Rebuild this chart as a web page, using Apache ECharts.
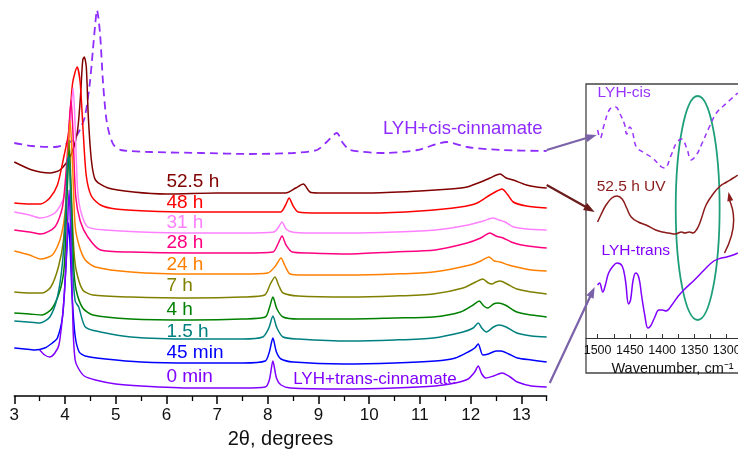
<!DOCTYPE html>
<html><head><meta charset="utf-8">
<script src="https://cdn.jsdelivr.net/npm/echarts@6/dist/echarts.min.js"></script>
<style>html,body{margin:0;padding:0;background:#fff}#c{width:738px;height:453px}</style>
</head><body><div id="c"></div>
<script>
// ---------- XRD patterns (2theta, intensity a.u. incl. stacking offset) ----------
const xrdCis = [[3.0,253],[3.35,250],[3.8,249],[4.1,254],[4.26,263],[4.39,279],[4.49,313],[4.55,346],[4.6,374],[4.63,386],[4.69,363],[4.75,313],[4.81,279],[4.87,263],[4.96,251],[5.1,246],[5.7,244],[6.7,243],[7.65,242],[8.5,243],[8.97,246],[9.16,254],[9.36,263],[9.48,253],[9.62,246],[10.3,243],[10.95,246],[11.53,254],[11.93,249],[12.58,246],[13.5,245]];
const xrd52h = [[3.0,234],[3.35,226],[3.7,223],[3.9,226],[4.1,239],[4.24,263],[4.3,296],[4.35,336],[4.38,339],[4.42,329],[4.46,279],[4.52,236],[4.6,216],[4.85,208],[5.35,204],[6.0,202],[7.0,203],[8.35,203],[8.55,208],[8.7,212],[8.83,204],[9.0,203],[10.0,203],[11.0,205],[11.6,207],[11.93,209],[12.2,214],[12.38,218],[12.58,222],[12.7,218],[12.84,216],[13.1,211],[13.3,209],[13.5,208]];
const xrd48h = [[3.0,193],[3.3,192],[3.52,192],[3.7,198],[3.85,211],[3.98,240],[4.07,263],[4.15,313],[4.24,329],[4.3,313],[4.36,263],[4.42,220],[4.52,200],[4.7,191],[5.0,187],[5.6,185],[6.5,184],[7.5,184],[8.25,184],[8.35,191],[8.42,198],[8.5,190],[8.6,184],[9.0,183],[10.0,183],[11.0,185],[11.8,189],[12.13,193],[12.38,201],[12.52,205],[12.62,207],[12.72,202],[12.84,194],[13.1,190],[13.5,188]];
const xrd31h = [[3.0,184],[3.3,181],[3.52,178],[3.8,183],[3.98,199],[4.06,240],[4.11,280],[4.16,308],[4.2,270],[4.25,205],[4.32,183],[4.45,169],[4.8,166],[5.5,164],[6.5,163],[7.5,163],[8.12,164],[8.2,168],[8.28,174],[8.36,167],[8.48,164],[8.8,163],[9.6,163],[10.5,164],[11.3,166],[11.95,171],[12.25,175],[12.44,178],[12.56,176],[12.68,174],[12.85,169],[13.1,167],[13.5,166]];
const xrd28h = [[3.0,166],[3.3,164],[3.52,162],[3.8,169],[3.95,189],[4.03,230],[4.08,270],[4.12,296],[4.16,260],[4.21,200],[4.3,175],[4.45,159],[4.7,146],[5.3,144],[6.5,143],[7.5,143],[8.1,144],[8.2,152],[8.28,160],[8.36,151],[8.48,144],[8.8,143],[9.6,142],[10.5,144],[11.3,146],[11.93,153],[12.2,158],[12.38,163],[12.5,160],[12.64,158],[12.8,154],[13.0,151],[13.3,149],[13.5,148]];
const xrd24h = [[3.0,145],[3.3,141],[3.52,137],[3.75,141],[3.9,156],[4.0,183],[4.05,230],[4.1,276],[4.15,230],[4.2,170],[4.28,150],[4.4,136],[4.6,129],[5.3,124],[6.5,122],[7.5,122],[8.0,123],[8.15,130],[8.26,138],[8.34,130],[8.44,122],[8.7,121],[9.6,121],[10.5,122],[11.26,124],[11.99,131],[12.2,135],[12.36,139],[12.47,135],[12.58,134],[12.75,131],[12.91,129],[13.2,126],[13.5,125]];
const xrd7h = [[3.0,104],[3.3,103],[3.55,103],[3.72,109],[3.87,129],[3.97,156],[4.04,210],[4.08,256],[4.12,210],[4.17,150],[4.22,126],[4.35,106],[4.55,101],[5.3,99],[6.5,98],[7.5,99],[7.94,101],[8.05,112],[8.14,119],[8.22,110],[8.3,103],[8.6,100],[9.6,99],[10.5,100],[11.26,102],[11.85,108],[12.1,114],[12.24,117],[12.35,113],[12.42,112],[12.5,114],[12.58,115],[12.72,112],[12.91,107],[13.2,104],[13.5,102]];
const xrd4h = [[3.0,83],[3.3,82],[3.55,81],[3.75,88],[3.92,109],[3.99,133],[4.04,200],[4.08,246],[4.12,200],[4.17,130],[4.22,106],[4.35,88],[4.55,81],[5.3,77],[6.5,76],[7.5,77],[7.95,79],[8.03,88],[8.10,99],[8.18,87],[8.3,79],[8.6,77],[9.6,77],[10.5,78],[11.26,79],[11.8,84],[12.05,91],[12.17,95],[12.26,90],[12.34,88],[12.45,92],[12.54,93],[12.68,91],[12.91,84],[13.2,81],[13.5,79]];
const xrd1h5 = [[3.0,75],[3.25,74],[3.5,73],[3.7,79],[3.85,99],[3.95,133],[4.01,180],[4.05,236],[4.08,240],[4.11,200],[4.15,130],[4.2,95],[4.27,89],[4.4,69],[4.7,64],[5.3,59],[6.5,57],[7.5,57],[7.9,59],[8.02,68],[8.10,80],[8.18,68],[8.3,59],[8.6,57],[9.6,55],[10.5,56],[11.26,58],[11.85,64],[12.05,68],[12.15,73],[12.22,68],[12.31,64],[12.45,69],[12.56,71],[12.7,69],[12.91,63],[13.2,60],[13.5,59]];
const xrd45m = [[3.0,48],[3.2,47],[3.4,46],[3.6,48],[3.75,53],[3.85,58],[3.95,79],[4.0,113],[4.04,150],[4.07,173],[4.10,150],[4.14,100],[4.2,60],[4.28,44],[4.4,40],[4.8,37],[5.5,34],[6.5,33],[7.5,33],[7.95,35],[8.03,44],[8.10,58],[8.17,44],[8.26,37],[8.5,34],[9.5,32],[10.5,33],[11.3,35],[11.7,38],[11.95,44],[12.08,48],[12.15,52],[12.24,41],[12.35,42],[12.5,45],[12.6,45],[12.75,42],[12.92,38],[13.2,36],[13.5,34]];
const xrd0m = [[3.5,46],[3.6,41],[3.7,39],[3.8,43],[3.88,51],[3.95,79],[4.0,113],[4.04,156],[4.08,206],[4.12,146],[4.16,66],[4.2,36],[4.26,28],[4.38,20],[4.6,16],[5.0,12],[5.5,10],[6.5,8],[7.5,8],[7.95,9],[8.03,16],[8.10,35],[8.17,18],[8.26,11],[8.45,8],[9.5,7],[10.5,8],[11.3,10],[11.7,13],[11.95,17],[12.08,24],[12.15,30],[12.22,22],[12.3,18],[12.45,20],[12.62,23],[12.78,19],[12.92,14],[13.2,10],[13.5,9]];

const xrdNames  = ['LYH+cis-cinnamate','52.5 h','48 h','31 h','28 h','24 h','7 h','4 h','1.5 h','45 min','0 min'];
const xrdColors = ['#8f2cff','#800000','#ff0000','#ff80ff','#ff0080','#ff8000','#808000','#008000','#008080','#0000ff','#8000ff'];
const xrdData   = [xrdCis,xrd52h,xrd48h,xrd31h,xrd28h,xrd24h,xrd7h,xrd4h,xrd1h5,xrd45m,xrd0m];
// label anchor: [2theta (left edge), intensity (vertical centre)]
const xrdLabelPos = [[10.27,267],[6.0,214],[6.0,193],[6.0,173],[6.0,153],[6.0,131],[6.0,110],[6.0,86],[6.0,64],[6.0,43],[6.0,19]];
const transLabel = {text:'LYH+trans-cinnamate', pos:[8.5,17], color:'#8000ff'};
const xrdMajorTicks = [3,4,5,6,7,8,9,10,11,12,13];
const xrdMinorTicks = [3.5,4.5,5.5,6.5,7.5,8.5,9.5,10.5,11.5,12.5,13.5];

// ---------- FTIR inset (wavenumber cm-1, transmittance a.u. incl. offset) ----------
const irCis = [[1500,208],[1496,200],[1490,213],[1481,229],[1472,231],[1466,225],[1458,213],[1455,204],[1450,211],[1446,206],[1440,191],[1430,186],[1415,180],[1401,171],[1396,170],[1386,183],[1378,195],[1370,199],[1362,190],[1355,178],[1347,183],[1338,195],[1327,211],[1316,225],[1300,235],[1283,245]];
const ir52h = [[1500,116],[1495,123],[1487,133],[1478,140],[1470,142],[1462,139],[1455,130],[1448,121],[1437,116],[1425,113],[1410,108],[1400,106],[1390,105],[1380,104],[1370,106],[1365,105],[1358,106],[1352,105],[1346,109],[1340,118],[1332,133],[1320,145],[1310,152],[1300,156],[1290,160],[1283,163]];
const irTrans = [[1500,53],[1497,55],[1492,46],[1488,53],[1483,65],[1476,72],[1470,75],[1462,72],[1457,58],[1452,34],[1449,38],[1445,58],[1441,65],[1436,60],[1432,43],[1427,23],[1422,10],[1418,12],[1412,20],[1405,28],[1400,28],[1394,27],[1385,33],[1375,42],[1365,49],[1350,58],[1335,68],[1320,77],[1308,80],[1300,81],[1290,83],[1283,85]];
const irNames  = ['LYH-cis','52.5 h UV','LYH-trans'];
const irColors = ['#9933ff','#8b1a1a','#8000ff'];
const irData   = [irCis, ir52h, irTrans];
const irLabelPos = [[1500,245],[1501.5,151],[1494,87]];
// highlight ellipse: [centre wavenumber, centre value, half-width (cm-1), half-height]
const irEllipse = [[1345,130,34,112]];

// arrows: from main-plot coords to inset coords
const arrowsLink = [
  {from:[13.5,246], to:[1501.5,203], color:'#7b62a8'},
  {from:[13.5,211], to:[1504.6,126], color:'#6a1b1b'},
  {from:[13.56,13], to:[1504.6,51], color:'#7b62a8'}
];
const arrowCurve = {from:[1303.4,85], to:[1297.2,146], color:'#8b1a1a'};

const FONT = 'Arial, "Liberation Sans", sans-serif';

const series = [];
xrdData.forEach((d,i)=>{
  series.push({
    type:'line', xAxisIndex:0, yAxisIndex:0, data:d, name:xrdNames[i],
    showSymbol:false, smooth:0.25, animation:false, silent:true,
    lineStyle:{color:xrdColors[i], width: i===0?1.8:1.5, type: i===0?[8,5]:'solid'}
  });
});
const IR0 = series.length;
irData.forEach((d,i)=>{
  series.push({
    type:'line', xAxisIndex:2, yAxisIndex:1, data:d, name:irNames[i],
    showSymbol:false, smooth:0.4, animation:false, silent:true,
    lineStyle:{color:irColors[i], width:1.5, type: i===0?[5,4]:'solid'}
  });
});
series.push({
  type:'custom', xAxisIndex:2, yAxisIndex:1, data:irEllipse, animation:false, silent:true, clip:false,
  renderItem:(params, api)=>{
    const c = api.coord([api.value(0), api.value(1)]);
    const s = api.size([api.value(2), api.value(3)]);
    return {type:'ellipse', shape:{cx:c[0], cy:c[1], rx:Math.abs(s[0]), ry:Math.abs(s[1])},
            style:{fill:'none', stroke:'#1f9e7a', lineWidth:1.8}};
  }
});

const option = {
  animation:false,
  backgroundColor:'#fff',
  grid:[
    {left:14.3, top:0, width:532.4, height:396, containLabel:false, outerBoundsMode:'none'},
    {left:586, top:84, width:173, height:254, containLabel:false, outerBoundsMode:'none'},
    {left:586, top:84, width:200, height:289, show:true, borderColor:'#444', borderWidth:1.3, backgroundColor:'transparent', containLabel:false, outerBoundsMode:'none'}
  ],
  xAxis:[
    {type:'value', gridIndex:0, min:3, max:13.5, position:'bottom',
     name:'2θ, degrees', nameLocation:'middle', nameGap:33,
     nameTextStyle:{fontSize:20, color:'#111', fontFamily:FONT},
     axisLine:{show:true, onZero:false, lineStyle:{color:'#000', width:1.5}},
     axisTick:{show:true, customValues:xrdMajorTicks, length:8, lineStyle:{color:'#000', width:1.5}},
     axisLabel:{customValues:xrdMajorTicks, fontSize:17, margin:11, color:'#111', fontFamily:FONT},
     splitLine:{show:false}},
    {type:'value', gridIndex:0, min:3, max:13.5, position:'bottom',
     axisLine:{show:false},
     axisTick:{show:true, customValues:xrdMinorTicks, length:5, lineStyle:{color:'#000', width:1.3}},
     axisLabel:{show:false}, splitLine:{show:false}},
    {type:'value', gridIndex:1, min:1250, max:1518, inverse:true, interval:25, position:'bottom',
     name:'Wavenumber, cm⁻¹', nameLocation:'middle', nameGap:21,
     nameTextStyle:{fontSize:14.5, color:'#111', fontFamily:FONT},
     axisLine:{show:true, onZero:false, lineStyle:{color:'#333', width:1.2}},
     axisTick:{show:true, inside:true, length:4, lineStyle:{color:'#333', width:1}},
     axisLabel:{fontSize:12.5, margin:6, color:'#111', fontFamily:FONT, showMaxLabel:false,
       formatter:v=> (Math.abs(v%50)<1e-6 ? String(v) : '')},
     splitLine:{show:false}},
    {type:'value', gridIndex:2, min:0, max:1, show:false}
  ],
  yAxis:[
    {type:'value', gridIndex:0, min:0, max:396, show:false},
    {type:'value', gridIndex:1, min:0, max:254, show:false},
    {type:'value', gridIndex:2, min:0, max:1, show:false}
  ],
  series:series
};

const chart = echarts.init(document.getElementById('c'), null, {renderer:'canvas'});
chart.setOption(option);

const mainPx = v => chart.convertToPixel({seriesIndex:0}, v);
const irPx = v => chart.convertToPixel({seriesIndex:IR0}, v);

function head(tip, from, color, len, wid){
  const dx = tip[0]-from[0], dy = tip[1]-from[1];
  const L = Math.hypot(dx,dy) || 1;
  const ux = dx/L, uy = dy/L;
  const bx = tip[0]-ux*len, by = tip[1]-uy*len;
  return {type:'polygon', silent:true, z:10,
    shape:{points:[[tip[0],tip[1]],[bx-uy*wid/2, by+ux*wid/2],[bx+uy*wid/2, by-ux*wid/2]]},
    style:{fill:color}};
}

const g = [];
xrdNames.forEach((n,i)=>{
  const p = mainPx(xrdLabelPos[i]);
  g.push({type:'text', silent:true, z:5, x:p[0], y:p[1],
    style:{text:n, fill:xrdColors[i], font:(i===0?'18.5px ':'19px ')+FONT,
      align:'left', verticalAlign:'middle', textAlign:'left', textVerticalAlign:'middle'}});
});
{
  const p = mainPx(transLabel.pos);
  g.push({type:'text', silent:true, z:5, x:p[0], y:p[1],
    style:{text:transLabel.text, fill:transLabel.color, font:'17px '+FONT,
      align:'left', verticalAlign:'middle', textAlign:'left', textVerticalAlign:'middle'}});
}
irNames.forEach((n,i)=>{
  const p = irPx(irLabelPos[i]);
  g.push({type:'text', silent:true, z:5, x:p[0], y:p[1],
    style:{text:n, fill:irColors[i], font:'15.5px '+FONT,
      align:'left', verticalAlign:'middle', textAlign:'left', textVerticalAlign:'middle'}});
});
arrowsLink.forEach(a=>{
  const s = mainPx(a.from), t = irPx(a.to);
  const dx=t[0]-s[0], dy=t[1]-s[1], L=Math.hypot(dx,dy);
  const e = [t[0]-dx/L*8, t[1]-dy/L*8];
  g.push({type:'line', silent:true, z:9, shape:{x1:s[0],y1:s[1],x2:e[0],y2:e[1]}, style:{stroke:a.color, lineWidth:2.2}});
  g.push(head(t, s, a.color, 11, 8));
});
{
  const s = irPx(arrowCurve.from), t = irPx(arrowCurve.to);
  const cp = [(s[0]+t[0])/2 + 14, (s[1]+t[1])/2];
  g.push({type:'bezierCurve', silent:true, z:9,
    shape:{x1:s[0],y1:s[1],x2:t[0],y2:t[1]+6,cpx1:cp[0],cpy1:cp[1]},
    style:{stroke:arrowCurve.color, lineWidth:1.5, fill:'none'}});
  g.push(head(t, [cp[0]-6, cp[1]], arrowCurve.color, 9, 6));
}
chart.setOption({graphic:{elements:g}});
</script></body></html>
